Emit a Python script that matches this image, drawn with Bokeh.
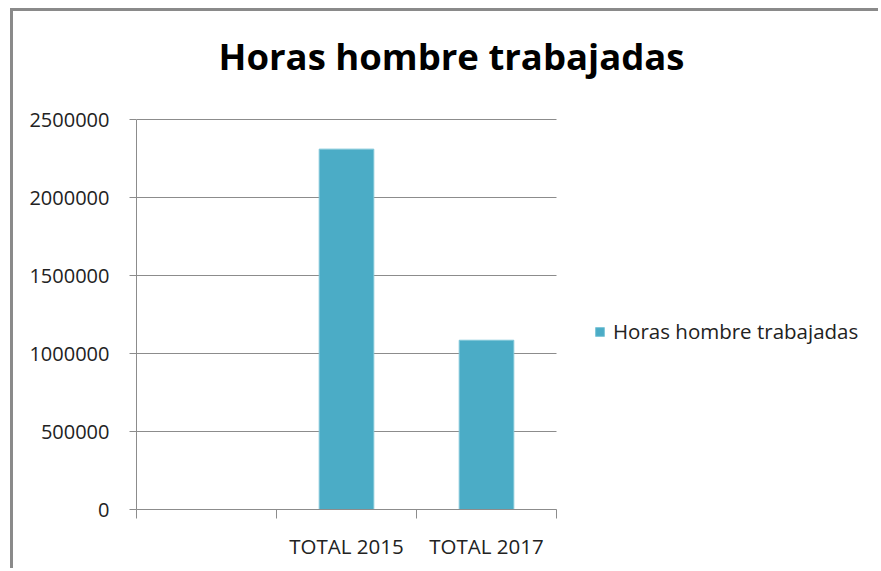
from bokeh.plotting import figure
from bokeh.models import (Range1d, FixedTicker, BasicTickFormatter, Legend, LegendItem,
                          ColumnDataSource, Label)
from bokeh.embed import file_html
from bokeh.resources import INLINE

# ---- data ----
categories = ["", "TOTAL 2015", "TOTAL 2017"]
values = [float("nan"), 2310000, 1085000]
series_name = "Horas hombre trabajadas"
title_text = "Horas hombre trabajadas"
y_ticks = [0, 500000, 1000000, 1500000, 2000000, 2500000]

FONT = "Open Sans"
TEXT = "#222222"
GRID = "#8c8c8c"
BAR = "#4BACC6"

# ---- layout (pixels) ----
W, H = 868, 560
ML, MB = 123, 62                 # left / bottom margins of the canvas
PLOT_W, PLOT_H = 420, 390        # visible plot area (axes extent)
FRAME_W, FRAME_H = W - ML, H - MB

n = len(categories)
xs = [i + 0.5 for i in range(n)]
src = ColumnDataSource(dict(x=xs, top=values, cat=categories))

x_end = n * FRAME_W / PLOT_W
y_end = y_ticks[-1] * FRAME_H / PLOT_H

p = figure(width=W, height=H, output_backend="svg", toolbar_location=None,
           x_range=Range1d(0, x_end), y_range=Range1d(0, y_end),
           min_border_left=ML, min_border_right=0, min_border_top=0,
           min_border_bottom=MB)
p.styles = {"border-top": "3px solid #8a8a8a", "border-left": "3px solid #8a8a8a",
            "margin-left": "10px", "margin-top": "8px"}
p.outline_line_color = None
p.background_fill_color = "white"
p.border_fill_color = "white"
p.grid.visible = False

# horizontal gridlines across the category area only
p.segment(x0=[0] * len(y_ticks), x1=[n] * len(y_ticks), y0=y_ticks, y1=y_ticks,
          line_color=GRID, line_width=1)

r = p.vbar(x="x", top="top", width=0.39, source=src, fill_color=BAR,
           line_color="#7fc6d8", line_width=1)

# x axis
xa = p.xaxis[0]
xa.bounds = (0, n)
xa.ticker = FixedTicker(ticks=xs, minor_ticks=list(range(n + 1)))
xa.major_label_overrides = {x: c for x, c in zip(xs, categories)}
xa.major_tick_out = 0
xa.major_tick_in = 0
xa.minor_tick_out = 9
xa.minor_tick_in = 0
xa.minor_tick_line_color = GRID
xa.axis_line_color = GRID
xa.major_label_text_font = FONT
xa.major_label_text_font_size = "20.5px"
xa.major_label_text_color = TEXT
xa.major_label_standoff = 13

# y axis
ya = p.yaxis[0]
ya.bounds = (0, y_ticks[-1])
ya.ticker = FixedTicker(ticks=y_ticks)
ya.formatter = BasicTickFormatter(use_scientific=False)
ya.major_tick_out = 7
ya.major_tick_in = 0
ya.minor_tick_out = 0
ya.minor_tick_in = 0
ya.major_tick_line_color = GRID
ya.axis_line_color = GRID
ya.major_label_text_font = FONT
ya.major_label_text_font_size = "20px"
ya.major_label_text_color = TEXT
ya.major_label_standoff = 20

# title
title = Label(x=315, y=454, x_units="screen", y_units="screen", text=title_text,
              text_font="Open Sans", text_font_style="bold", text_font_size="36.5px",
              text_color="black", text_align="center", text_baseline="alphabetic")
p.add_layout(title)

legend = Legend(items=[LegendItem(label=series_name, renderers=[r])],
                location=(458, 164), padding=0, margin=0,
                border_line_color=None, background_fill_alpha=0,
                glyph_width=11, glyph_height=11, label_standoff=8,
                label_text_font=FONT, label_text_font_size="20.5px",
                label_text_color=TEXT)
p.add_layout(legend)

open("out.html", "w").write(file_html(p, INLINE))
